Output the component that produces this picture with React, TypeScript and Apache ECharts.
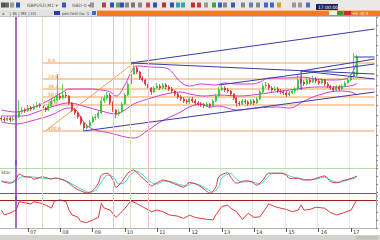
import React, { useEffect, useRef } from "react";
import * as echarts from "echarts";

const categoryCount = 128;
const tickIndex = [9, 20, 31, 42, 53, 64, 75, 86, 97, 108, 119];
const tickLabels = ["07", "08", "09", "10", "11", "12", "13", "14", "15", "16", "17"];

const opens = [
  1.3235, 1.3230, 1.3225, 1.3235, 1.3225, 1.3230, 1.3240, 1.3265, 1.3275, 1.3270,
  1.3285, 1.3280, 1.3290, 1.3300, 1.3295, 1.3285, 1.3275, 1.3295, 1.3320, 1.3325,
  1.3345, 1.3335, 1.3350, 1.3345, 1.3310, 1.3275, 1.3260, 1.3240, 1.3210, 1.3185,
  1.3195, 1.3215, 1.3235, 1.3240, 1.3260, 1.3320, 1.3335, 1.3350, 1.3310, 1.3275,
  1.3255, 1.3265, 1.3305, 1.3350, 1.3405, 1.3455, 1.3485, 1.3465, 1.3435, 1.3425,
  1.3405, 1.3385, 1.3365, 1.3385, 1.3395, 1.3385, 1.3400, 1.3390, 1.3380, 1.3370,
  1.3355, 1.3340, 1.3330, 1.3320, 1.3315, 1.3330, 1.3320, 1.3310, 1.3305, 1.3300,
  1.3295, 1.3305, 1.3295, 1.3320, 1.3345, 1.3375, 1.3385, 1.3375, 1.3370, 1.3355,
  1.3335, 1.3310, 1.3305, 1.3320, 1.3315, 1.3305, 1.3320, 1.3310, 1.3330, 1.3365,
  1.3395, 1.3400, 1.3385, 1.3375, 1.3380, 1.3370, 1.3365, 1.3360, 1.3350, 1.3360,
  1.3370, 1.3380, 1.3425, 1.3415, 1.3405, 1.3425, 1.3415, 1.3430, 1.3420, 1.3410,
  1.3425, 1.3405, 1.3395, 1.3385, 1.3375, 1.3390, 1.3380, 1.3395, 1.3410, 1.3425,
  1.3445, 1.3450,
];
const closes = [
  1.3230, 1.3225, 1.3235, 1.3225, 1.3230, 1.3240, 1.3265, 1.3275, 1.3270, 1.3285,
  1.3280, 1.3290, 1.3300, 1.3295, 1.3285, 1.3275, 1.3295, 1.3320, 1.3325, 1.3345,
  1.3335, 1.3350, 1.3345, 1.3310, 1.3275, 1.3260, 1.3240, 1.3210, 1.3185, 1.3195,
  1.3215, 1.3235, 1.3240, 1.3260, 1.3320, 1.3335, 1.3350, 1.3310, 1.3275, 1.3255,
  1.3265, 1.3305, 1.3350, 1.3405, 1.3455, 1.3485, 1.3465, 1.3435, 1.3425, 1.3405,
  1.3385, 1.3365, 1.3385, 1.3395, 1.3385, 1.3400, 1.3390, 1.3380, 1.3370, 1.3355,
  1.3340, 1.3330, 1.3320, 1.3315, 1.3330, 1.3320, 1.3310, 1.3305, 1.3300, 1.3295,
  1.3305, 1.3295, 1.3320, 1.3345, 1.3375, 1.3385, 1.3375, 1.3370, 1.3355, 1.3335,
  1.3310, 1.3305, 1.3320, 1.3315, 1.3305, 1.3320, 1.3310, 1.3330, 1.3365, 1.3395,
  1.3400, 1.3385, 1.3375, 1.3380, 1.3370, 1.3365, 1.3360, 1.3350, 1.3360, 1.3370,
  1.3380, 1.3425, 1.3415, 1.3405, 1.3425, 1.3415, 1.3430, 1.3420, 1.3410, 1.3425,
  1.3405, 1.3395, 1.3385, 1.3375, 1.3390, 1.3380, 1.3395, 1.3410, 1.3425, 1.3445,
  1.3465, 1.3540,
];
const highs = [
  1.3245, 1.3240, 1.3245, 1.3240, 1.3240, 1.3250, 1.3325, 1.3290, 1.3285, 1.3300,
  1.3295, 1.3305, 1.3315, 1.3310, 1.3300, 1.3290, 1.3305, 1.3335, 1.3340, 1.3455,
  1.3360, 1.3405, 1.3365, 1.3350, 1.3315, 1.3285, 1.3265, 1.3245, 1.3215, 1.3205,
  1.3225, 1.3245, 1.3255, 1.3270, 1.3340, 1.3350, 1.3365, 1.3360, 1.3320, 1.3280,
  1.3280, 1.3315, 1.3360, 1.3415, 1.3470, 1.3510, 1.3495, 1.3470, 1.3445, 1.3430,
  1.3410, 1.3390, 1.3395, 1.3410, 1.3405, 1.3410, 1.3410, 1.3400, 1.3390, 1.3375,
  1.3365, 1.3350, 1.3340, 1.3330, 1.3340, 1.3340, 1.3330, 1.3320, 1.3315, 1.3310,
  1.3315, 1.3310, 1.3330, 1.3355, 1.3390, 1.3400, 1.3395, 1.3385, 1.3375, 1.3360,
  1.3340, 1.3320, 1.3330, 1.3330, 1.3325, 1.3330, 1.3330, 1.3340, 1.3375, 1.3410,
  1.3415, 1.3410, 1.3395, 1.3395, 1.3390, 1.3380, 1.3375, 1.3370, 1.3370, 1.3380,
  1.3390, 1.3455, 1.3435, 1.3425, 1.3440, 1.3435, 1.3445, 1.3440, 1.3430, 1.3435,
  1.3430, 1.3415, 1.3400, 1.3395, 1.3400, 1.3400, 1.3405, 1.3420, 1.3435, 1.3455,
  1.3560, 1.3550,
];
const lows = [
  1.3220, 1.3215, 1.3220, 1.3215, 1.3220, 1.3225, 1.3235, 1.3255, 1.3260, 1.3265,
  1.3270, 1.3275, 1.3285, 1.3285, 1.3275, 1.3265, 1.3270, 1.3290, 1.3310, 1.3320,
  1.3325, 1.3330, 1.3335, 1.3300, 1.3265, 1.3250, 1.3230, 1.3200, 1.3170, 1.3175,
  1.3190, 1.3210, 1.3225, 1.3230, 1.3255, 1.3310, 1.3325, 1.3300, 1.3265, 1.3235,
  1.3245, 1.3260, 1.3300, 1.3345, 1.3400, 1.3450, 1.3455, 1.3425, 1.3415, 1.3395,
  1.3375, 1.3350, 1.3360, 1.3380, 1.3375, 1.3380, 1.3380, 1.3370, 1.3360, 1.3345,
  1.3330, 1.3320, 1.3310, 1.3305, 1.3305, 1.3310, 1.3300, 1.3295, 1.3290, 1.3285,
  1.3290, 1.3285, 1.3290, 1.3315, 1.3340, 1.3370, 1.3365, 1.3360, 1.3345, 1.3325,
  1.3290, 1.3295, 1.3300, 1.3305, 1.3295, 1.3300, 1.3300, 1.3305, 1.3325, 1.3360,
  1.3385, 1.3375, 1.3365, 1.3370, 1.3360, 1.3355, 1.3350, 1.3340, 1.3345, 1.3355,
  1.3360, 1.3370, 1.3405, 1.3395, 1.3400, 1.3405, 1.3410, 1.3410, 1.3400, 1.3405,
  1.3395, 1.3385, 1.3375, 1.3365, 1.3370, 1.3370, 1.3375, 1.3390, 1.3405, 1.3420,
  1.3430, 1.3445,
];

const bbUpper = [
  [0, 1.3275], [5, 1.3265], [10, 1.3285], [15, 1.3315], [18, 1.3340], [21, 1.3365],
  [23, 1.3380], [30, 1.3380], [34, 1.3375], [37, 1.3365], [39, 1.3345], [42, 1.3400],
  [44, 1.3460], [46, 1.3495], [51, 1.3490], [56, 1.3485], [58, 1.3465], [61, 1.3415],
  [64, 1.3395], [68, 1.3405], [73, 1.3400], [76, 1.3410], [80, 1.3405], [85, 1.3405],
  [88, 1.3415], [91, 1.3435], [97, 1.3435], [102, 1.3440], [107, 1.3430], [112, 1.3425],
  [117, 1.3430], [119, 1.3450], [121, 1.3515],
];
const bbMiddle = [
  [0, 1.3245], [7, 1.3245], [13, 1.3270], [18, 1.3295], [23, 1.3310], [29, 1.3290],
  [34, 1.3270], [39, 1.3255], [42, 1.3275], [45, 1.3305], [51, 1.3335], [56, 1.3355],
  [61, 1.3365], [64, 1.3355], [69, 1.3345], [74, 1.3350], [81, 1.3345], [88, 1.3355],
  [93, 1.3365], [98, 1.3375], [103, 1.3385], [108, 1.3390], [115, 1.3390], [120, 1.3400],
  [121, 1.3410],
];
const bbLower = [
  [0, 1.3215], [5, 1.3205], [10, 1.3220], [17, 1.3250], [23, 1.3285], [25, 1.3280],
  [28, 1.3215], [31, 1.3180], [37, 1.3160], [45, 1.3135], [50, 1.3175], [54, 1.3215],
  [61, 1.3265], [64, 1.3290], [68, 1.3305], [71, 1.3290], [74, 1.3295], [80, 1.3275],
  [87, 1.3285], [94, 1.3290], [98, 1.3285], [103, 1.3320], [108, 1.3350], [115, 1.3370],
  [119, 1.3365], [121, 1.3350],
];

const fibNames = ["0.0", "23.6", "38.2", "50.0", "61.8", "100.0"];
const fibLevels = [1.3510, 1.3430, 1.3380, 1.3340, 1.3300, 1.3170];
const fibStart = 14;
const fibSwing = [[15, 1.3170], [45, 1.3510]];

const trendLines = [
  [[44, 1.3510], [127, 1.3680]],
  [[44, 1.3510], [127, 1.3455]],
  [[74, 1.3400], [127, 1.3505]],
  [[28, 1.3170], [127, 1.3365]],
  [[102, 1.3470], [102, 1.3375]],
  [[102, 1.3470], [127, 1.3530]],
  [[102, 1.3470], [127, 1.3430]],
  [[120, 1.3540], [127, 1.3540]],
];

const stochK = [
  [0, 46], [3, 42], [5, 52], [6, 65], [8, 58], [10, 57], [11, 52], [14, 58], [17, 52], [18, 55],
  [21, 50], [23, 42], [25, 30], [27, 23], [29, 18], [31, 23], [33, 42], [34, 62], [36, 67], [38, 50],
  [39, 32], [41, 46], [43, 67], [45, 75], [47, 62], [50, 42], [51, 35], [53, 43], [55, 50], [57, 46],
  [60, 37], [62, 32], [64, 44], [67, 37], [69, 27], [71, 17], [73, 33], [74, 58], [77, 68], [78, 58],
  [80, 42], [83, 48], [85, 46], [87, 37], [89, 50], [91, 67], [95, 67], [97, 62], [98, 54], [101, 54],
  [103, 50], [105, 50], [107, 54], [110, 60], [112, 46], [114, 43], [116, 48], [119, 54], [121, 60],
];
const stochD = [
  [0, 48], [4, 44], [7, 58], [10, 58], [13, 55], [16, 54], [19, 54], [22, 48], [25, 36], [28, 24],
  [30, 19], [32, 24], [34, 45], [36, 62], [38, 58], [40, 40], [42, 44], [44, 64], [46, 72], [48, 63],
  [51, 44], [53, 40], [55, 47], [57, 47], [60, 40], [63, 35], [65, 42], [68, 36], [70, 27], [72, 20],
  [74, 34], [75, 55], [78, 66], [80, 52], [82, 45], [85, 46], [88, 40], [90, 52], [92, 66], [96, 67],
  [98, 60], [101, 55], [104, 51], [107, 52], [110, 57], [112, 50], [115, 44], [117, 48], [120, 54], [121, 58],
];
const stochLevels = [80, 17.5];

const oscValues = [
  [0, 56], [1, 41], [3, 47], [5, 56], [6, 82], [8, 79], [10, 75], [11, 82], [13, 78], [15, 72],
  [17, 62], [18, 84], [20, 88], [22, 82], [23, 56], [24, 41], [26, 34], [27, 20], [29, 17], [31, 25],
  [33, 33], [34, 77], [35, 62], [37, 56], [39, 33], [41, 51], [43, 72], [44, 85], [46, 77], [48, 67],
  [51, 51], [53, 56], [55, 51], [57, 41], [60, 37], [62, 30], [64, 40], [66, 33], [68, 30], [70, 27],
  [72, 25], [73, 41], [75, 67], [77, 72], [78, 62], [80, 51], [82, 27], [84, 46], [86, 33], [88, 35],
  [90, 62], [91, 75], [93, 67], [95, 62], [97, 58], [99, 51], [101, 56], [102, 72], [103, 56], [105, 58],
  [107, 65], [110, 62], [112, 48], [114, 41], [116, 46], [119, 56], [120, 72], [121, 88],
];
const oscLevel = 87.5;

const markerIndex = [5, 14, 38, 44, 50];
const markerColors = ["#8a3aae", "#e2ddb4", "#efbccf", "#e2ddb4", "#efbccf"];

const FONT = "DejaVu Sans, Liberation Sans, sans-serif";

const toolbarIcons = [
  [1, "#555"], [5, "#666"], [10, "#999"], [16, "#2a4fb0"], [62, "#3558c8"], [90, "#999"],
  [102, "#c04040"], [110, "#3050c0"], [116, "#60a060"], [120, "#3050c0"], [125, "#888"],
  [131, "#777"], [138, "#888"], [146, "#d04060"], [153, "#3050c0"], [162, "#c03030"],
  [170, "#3050c0"], [176, "#30a0c0"], [181, "#30a0c0"], [191, "#c03030"], [197, "#c04040"],
  [204, "#999"], [212, "#40a040"], [218, "#3060c0"], [223, "#888"], [231, "#3060c0"],
  [241, "#888"], [249, "#6080c0"], [256, "#888"], [264, "#3a6ad0"], [270, "#3a6ad0"],
  [277, "#d0a020"], [292, "#999"], [298, "#999"], [306, "#4a70c0"],
];

export default function App() {
  const ref = useRef<HTMLDivElement>(null);
  useEffect(() => {
    if (!ref.current) return;
    const chart = echarts.init(ref.current, undefined, { renderer: "svg" });
    const categories = Array.from({ length: categoryCount }, (_, i) => {
      const k = tickIndex.indexOf(i);
      return k >= 0 ? tickLabels[k] : String(i);
    });
    const tickFn = (i: number) => tickIndex.includes(i);
    const candles = closes.map((c, i) => [opens[i], c, lows[i], highs[i]]);
    const markerLines = markerIndex.map((idx, k) => ({
      xAxis: idx,
      lineStyle: { color: markerColors[k], width: k === 0 ? 1.5 : 1, type: "solid" },
    }));
    const mlBase = { symbol: ["none", "none"], silent: true, label: { show: false } };

    const xAxes = [0, 1, 2].map((g) => ({
      type: "category",
      gridIndex: g,
      data: categories,
      boundaryGap: true,
      axisLine: { show: g === 2, lineStyle: { color: "#b0b0b0" } },
      axisTick: { show: g === 2, interval: tickFn, alignWithLabel: true, length: 4, lineStyle: { color: "#555" } },
      axisLabel: {
        show: g === 2, interval: tickFn, fontSize: 5, color: "#333", align: "left",
        margin: 1, padding: [0, 0, 0, 2], fontFamily: FONT,
      },
      splitLine: { show: true, interval: tickFn, lineStyle: { color: "#ebebeb", width: 1 } },
    }));
    const yBase = {
      position: "right",
      axisLine: { show: true, lineStyle: { color: "#a0a0a0" } },
      axisTick: { show: true, length: 2, lineStyle: { color: "#888" } },
      axisLabel: { show: false },
      splitLine: { show: false },
    };

    const lineSeries = (data: any, color: string, extra: any = {}) => ({
      type: "line", xAxisIndex: 0, yAxisIndex: 0, data, symbol: "none",
      lineStyle: { color, width: 1 }, silent: true, ...extra,
    });

    const option: any = {
      animation: false,
      backgroundColor: "#ffffff",
      grid: [
        { left: 0, right: 4, top: 17, height: 148 },
        { left: 0, right: 4, top: 160, height: 40 },
        { left: 0, right: 4, top: 196, height: 32 },
      ],
      xAxis: xAxes,
      yAxis: [
        { ...yBase, gridIndex: 0, min: 1.3, max: 1.374, interval: 0.005 },
        { ...yBase, gridIndex: 1, min: 0, max: 100, interval: 20 },
        { ...yBase, gridIndex: 2, min: 0, max: 100, interval: 25 },
      ],
      series: [
        {
          type: "candlestick", xAxisIndex: 0, yAxisIndex: 0, data: candles,
          barMaxWidth: 1.8,
          itemStyle: { color: "#22c322", color0: "#dd2020", borderColor: "#22c322", borderColor0: "#dd2020", borderWidth: 0.7 },
          markLine: { ...mlBase, data: markerLines },
          z: 3,
        },
        lineSeries(bbUpper, "#d33ad3", { smooth: 0.4 }),
        lineSeries(bbMiddle, "#d33ad3", { smooth: 0.4 }),
        lineSeries(bbLower, "#d33ad3", { smooth: 0.4 }),
        lineSeries(fibSwing, "#f2a055"),
        ...fibLevels.map((v, k) => ({
          type: "line", xAxisIndex: 0, yAxisIndex: 0, silent: true,
          symbol: "circle", symbolSize: 1, showSymbol: true,
          itemStyle: { color: "rgba(0,0,0,0)" },
          lineStyle: { color: "#f2a055", width: 1 },
          data: [
            {
              value: [fibStart, v],
              label: {
                show: true, formatter: fibNames[k], position: "right", offset: [0, -3],
                fontSize: 4.5, color: "#e07a20", fontFamily: FONT,
              },
            },
            [categoryCount - 1, v],
          ],
          z: 1,
        })),
        ...trendLines.map((seg) => lineSeries(seg, "#3a3aa8", { z: 4 })),
        {
          type: "line", xAxisIndex: 1, yAxisIndex: 1, data: stochD, symbol: "none", silent: true,
          smooth: 0.3, lineStyle: { color: "#3fd6cf", width: 1 },
        },
        {
          type: "line", xAxisIndex: 1, yAxisIndex: 1, data: stochK, symbol: "none", silent: true,
          smooth: 0.3, lineStyle: { color: "#d83a3a", width: 1 },
          markLine: {
            ...mlBase,
            data: [
              { yAxis: stochLevels[0], lineStyle: { color: "#b6dca8", width: 1, type: "solid" } },
              { yAxis: stochLevels[1], lineStyle: { color: "#2e8b2e", width: 1.2, type: "solid" } },
              ...markerLines,
            ],
          },
        },
        {
          type: "line", xAxisIndex: 2, yAxisIndex: 2, data: oscValues, symbol: "none", silent: true,
          lineStyle: { color: "#e03a3a", width: 1 },
          markLine: {
            ...mlBase,
            data: [
              { yAxis: oscLevel, lineStyle: { color: "#9a2020", width: 1.2, type: "solid" } },
              ...markerLines,
            ],
          },
        },
      ],
      graphic: [
        { type: "rect", shape: { x: 0, y: 0, width: 380, height: 10 }, style: { fill: "#ebe9e5" }, silent: true },
        ...toolbarIcons.map(([x, c]) => ({
          type: "rect", shape: { x: x as number, y: 2.5, width: 4, height: 5 }, style: { fill: c as string }, silent: true,
        })),
        { type: "text", x: 27, y: 3, style: { text: "GBPUSD,M1 \u25BE", fontSize: 4.5, fill: "#555", fontFamily: FONT } },
        { type: "text", x: 72, y: 3, style: { text: "GBD-0 \u25BE", fontSize: 4.5, fill: "#555", fontFamily: FONT } },
        { type: "rect", shape: { x: 316, y: 4, width: 22, height: 6 }, style: { fill: "#1a2060" } },
        { type: "text", x: 318, y: 4.6, style: { text: "17:00:00", fontSize: 4.5, fill: "#ffffff", fontFamily: FONT } },
        { type: "rect", shape: { x: 0, y: 10, width: 97, height: 6.5 }, style: { fill: "#e2e2e2" } },
        { type: "text", x: 2, y: 11, style: { text: "a    | 4k | M1 | H1", fontSize: 4, fill: "#444", fontFamily: FONT } },
        { type: "rect", shape: { x: 54, y: 11, width: 6, height: 4 }, style: { fill: "#2a3ab0" } },
        { type: "text", x: 62, y: 11, style: { text: "pes\u00B7test\u00B7na \u00B71", fontSize: 4, fill: "#444", fontFamily: FONT } },
        { type: "rect", shape: { x: 92, y: 11, width: 4, height: 4 }, style: { fill: "#3a6ad0" } },
        { type: "rect", shape: { x: 97, y: 10.5, width: 283, height: 5.5 }, style: { fill: "#f47b20" } },
        { type: "rect", shape: { x: 329, y: 11, width: 8, height: 4 }, style: { fill: "#e8f4e0" } },
        { type: "rect", shape: { x: 337, y: 11, width: 6, height: 4 }, style: { fill: "#2ea02e" } },
        { type: "rect", shape: { x: 344, y: 11, width: 7, height: 4 }, style: { fill: "#d02a2a" } },
        { type: "text", x: 352, y: 11, style: { text: "+0 -4/ 3", fontSize: 4, fill: "#fff", fontFamily: FONT } },
        { type: "line", shape: { x1: 0, y1: 16.5, x2: 380, y2: 16.5 }, style: { stroke: "#c0c0c0", lineWidth: 1 } },
        { type: "text", x: 1, y: 170, style: { text: "Stoc", fontSize: 4.5, fill: "#333", fontFamily: FONT } },
        { type: "rect", shape: { x: 0, y: 235, width: 380, height: 5 }, style: { fill: "#d6d3ce" } },
        { type: "rect", shape: { x: 356, y: 236, width: 22, height: 3.5 }, style: { fill: "#c4c1bb" } },
      ],
    };
    chart.setOption(option);
    return () => chart.dispose();
  }, []);
  return (
    <div
      ref={ref}
      style={{ position: "fixed", left: 0, top: 0, width: 380, height: 240, background: "#fff" }}
    />
  );
}
